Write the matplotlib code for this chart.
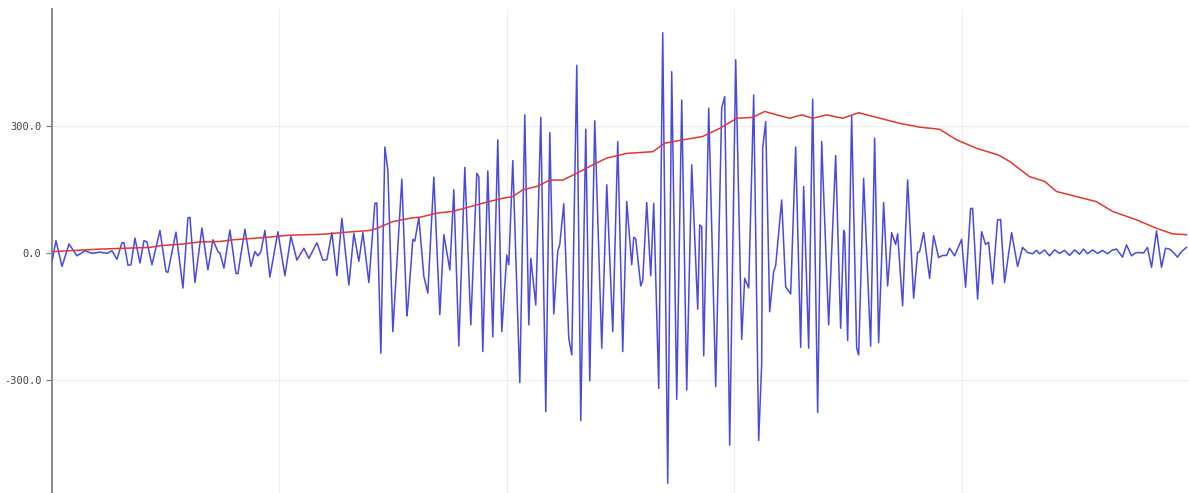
import matplotlib
matplotlib.use("Agg")
import matplotlib.pyplot as plt
from matplotlib.ticker import FixedLocator, FormatStrFormatter

# blue signal: sample position and value (peaks and troughs)
blue_x = [0, 4, 10, 17, 25, 33, 40, 48, 55, 60, 65, 70, 72, 76, 79, 83, 88, 92, 95, 100,
          108, 114, 116, 124, 131, 136, 138, 143, 150, 156, 161, 166, 168, 172, 178, 184, 186,
          193, 199, 203, 206, 209, 213, 218, 226, 233, 239, 245, 252, 257, 265, 271, 275, 280,
          285, 290, 297, 302, 307, 311, 317, 323, 325, 329, 333, 336, 341, 350, 355, 356, 361,
          363, 367, 372, 376, 382, 388, 392, 398, 402, 407, 413, 419, 425, 427, 431, 436, 441,
          446, 450, 455, 457, 461, 468, 473, 477, 479, 484, 489, 494, 498, 502, 506, 508, 512,
          517, 520, 525, 529, 534, 538, 543, 550, 555, 561, 566, 571, 575, 580, 582, 584, 589,
          591, 595, 599, 602, 607, 611, 616, 620, 625, 630, 635, 640, 646, 648, 650, 652, 657,
          664, 670, 673, 678, 684, 690, 693, 697, 702, 707, 710, 711, 714, 718, 722, 724, 730,
          734, 739, 744, 749, 752, 757, 761, 766, 770, 777, 784, 789, 792, 793, 796, 800, 805,
          807, 812, 819, 823, 827, 832, 836, 840, 844, 846, 851, 856, 862, 866, 868, 872, 878,
          882, 887, 891, 895, 898, 903, 910, 914, 919, 921, 926, 930, 934, 937, 941, 946, 949,
          953, 960, 966, 971, 976, 981, 985, 988, 993, 998, 1003, 1008, 1013, 1018, 1023, 1028,
          1032, 1036, 1041, 1046, 1051, 1056, 1061, 1065, 1071, 1075, 1080, 1084, 1087, 1092,
          1096, 1100, 1105, 1110, 1114, 1118, 1122, 1126, 1130, 1135]
blue_y = [-20, 29, -32, 21, -7, 5, -1, 2, -1, 5, -15, 24, 24, -29, -28, 35, -24, 29, 26, -28,
          53, -44, -46, 49, -83, 83, 84, -70, 59, -40, 31, 3, 0, -36, 54, -48, -49,
          56, -32, 3, -7, 3, 53, -57, 50, -54, 39, -17, 11, -13, 24, -17, -16, 48,
          -54, 82, -76, 46, -20, 48, -70, 117, 118, -237, 250, 196, -186, 174, -149, -128, 32,
          28, 84, -55, -95, 179, -146, 43, -40, 149, -220, 202, -170, 188, 180, -233, 194, -198,
          267, -186, -5, -28, 218, -306, 326, -170, -13, -123, 320, -375, 284, -144, 5, 20, 116,
          -202, -241, 443, -396, 292, -302, 312, -225, 161, -186, 263, -233, 121, -28, 37, 33, -78,
          -65, 119, -54, 117, -320, 520, -544, 428, -346, 361, -324, 208, -133, 66, 62, -243, 342,
          -316, 342, 369, -454, 456, -204, -60, -83, 373, -443, -261, 247, 310, -139, -44, -30, 125,
          -80, -97, 250, -223, 157, -225, 363, -377, 263, -170, 230, -178, 53, 48, -207, 324, -225,
          -241, 176, -220, 271, -212, 119, -78, 48, 20, 45, -125, 172, -107, 1, 3, 48, -60,
          41, -11, -6, -6, 11, -7, 32, -81, 105, 105, -109, 50, 20, 25, -73, 78, 79,
          -70, 48, -32, 13, 1, -2, 6, -2, 7, -7, 7, -1, 6, -6, 7, -3,
          9, -2, 7, -1, 6, -2, 7, 9, -10, 19, -7, 0, 1, 0,
          13, -34, 52, -34, 11, 9, 1, -10, 3, 13]

# red trend line
red_x = [0, 48, 98, 108, 131, 148, 168, 181, 211, 238, 271, 295, 318, 325, 341, 361, 368,
         385, 401, 418, 435, 451, 461, 471, 485, 498, 511, 525, 541, 555, 575, 601, 613,
         631, 651, 668, 685, 701, 713, 725, 738, 750, 761, 775, 791, 807, 825, 848, 868,
         888, 905, 925, 947, 958, 978, 993, 1005, 1025, 1045, 1061, 1085, 1105, 1121, 1135]
red_y = [3, 9, 13, 17, 21, 26, 27, 31, 36, 42, 44, 49, 53, 58, 74, 83, 84,
         94, 98, 109, 120, 129, 133, 149, 157, 172, 172, 188, 208, 224, 235, 239, 259,
         267, 275, 294, 318, 320, 334, 326, 318, 326, 318, 326, 318, 331, 320, 306, 297,
         292, 267, 247, 231, 216, 180, 169, 145, 133, 121, 98, 78, 58, 45, 43]

y_ticks = [-300.0, 0.0, 300.0]
x_grid = [227.5, 455, 682.5, 910]

plt.rcParams["axes.unicode_minus"] = False

fig = plt.figure(figsize=(11.89, 4.93), dpi=100)
ax = fig.add_axes([52 / 1189, 0, 1 - 52 / 1189, 484 / 493])

ax.plot(blue_x, blue_y, color="#4a4ade", lw=1.1, zorder=3)
ax.plot(red_x, red_y, color="#e0392e", lw=1.1, zorder=4)

ax.set_xlim(0, 1137.5)
ax.set_ylim(-567, 576)

ax.yaxis.set_major_locator(FixedLocator(y_ticks))
ax.yaxis.set_major_formatter(FormatStrFormatter("%.1f"))
ax.xaxis.set_major_locator(FixedLocator(x_grid))
ax.tick_params(axis="x", length=0, labelbottom=False)
ax.tick_params(axis="y", length=4, width=0.8, color="#777777", pad=3.5,
               labelsize=7.5, labelcolor="#444444")
for lab in ax.get_yticklabels():
    lab.set_family("DejaVu Sans Mono")

ax.grid(True, color="#eeeeee", lw=0.8, zorder=0)
for side in ["top", "right", "bottom"]:
    ax.spines[side].set_visible(False)
ax.spines["left"].set_color("#808080")
ax.spines["left"].set_linewidth(1.3)

fig.savefig("out.png", dpi=100)
